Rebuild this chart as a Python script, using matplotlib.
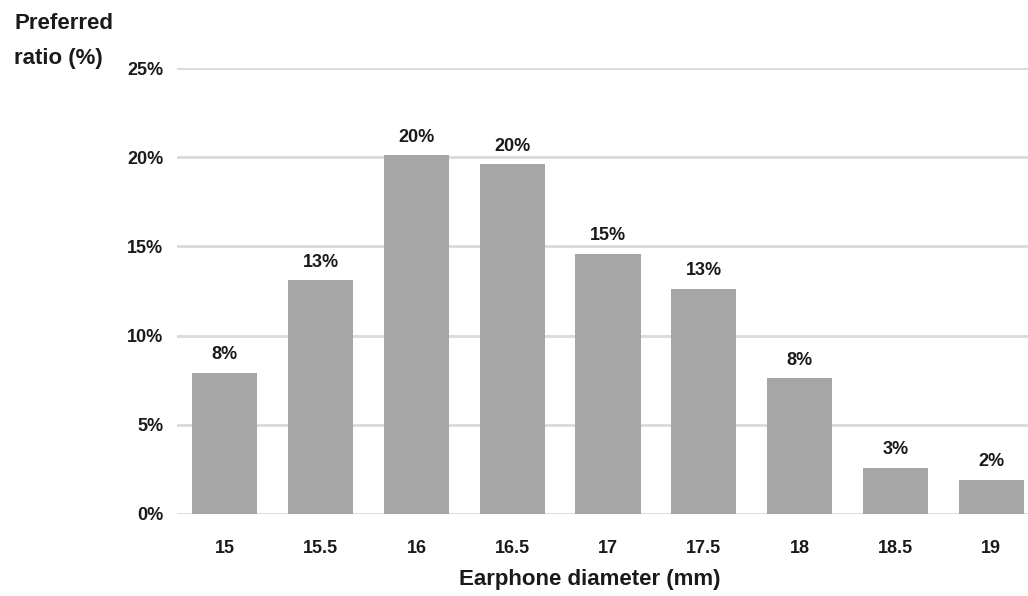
import matplotlib
matplotlib.use("Agg")
import matplotlib.pyplot as plt
from matplotlib import font_manager

diameters = ["15", "15.5", "16", "16.5", "17", "17.5", "18", "18.5", "19"]
preferred = [7.9, 13.1, 20.1, 19.6, 14.6, 12.6, 7.6, 2.6, 1.9]
y_ticks = [0, 5, 10, 15, 20, 25]

names = {f.name for f in font_manager.fontManager.ttflist}
family = [n for n in ["Liberation Sans Narrow", "Liberation Sans", "DejaVu Sans"] if n in names]
plt.rcParams["font.family"] = family

fig = plt.figure(figsize=(10.28, 5.96), dpi=100)
ax = fig.add_axes([0.1722, 0.1376, 0.8385, 0.7483])

x = range(len(diameters))
ax.bar(x, preferred, width=0.68, color="#a6a6a6", zorder=2)
for xi, v in zip(x, preferred):
    ax.annotate(f"{round(v):d}%", (xi, v), xytext=(0, 7), textcoords="offset points",
                ha="center", va="bottom", fontsize=13, fontweight="bold", color="#1a1a1a")

ax.set_xlim(-0.5, len(diameters) - 0.5)
ax.set_ylim(0, 25)
ax.set_yticks(y_ticks)
ax.set_yticklabels([f"{t}%" for t in y_ticks])
ax.set_xticks(list(x))
ax.set_xticklabels(diameters)
ax.yaxis.grid(True, color="#d9d9d9", linewidth=2, zorder=0)
ax.set_axisbelow(True)
for s in ax.spines.values():
    s.set_visible(False)
ax.tick_params(axis="both", length=0, labelsize=13, colors="#1a1a1a")
ax.tick_params(axis="y", pad=10)
ax.tick_params(axis="x", pad=19)
for lbl in ax.get_xticklabels() + ax.get_yticklabels():
    lbl.set_fontweight("bold")

fig.text(0.014, 0.978, "Preferred\nratio (%)", ha="left", va="top",
         fontsize=16, fontweight="bold", color="#1a1a1a", linespacing=1.85)
fig.text(0.574, 0.027, "Earphone diameter (mm)", ha="center", va="center",
         fontsize=16, fontweight="bold", color="#1a1a1a")

fig.savefig("out.png", dpi=100, facecolor="white")
